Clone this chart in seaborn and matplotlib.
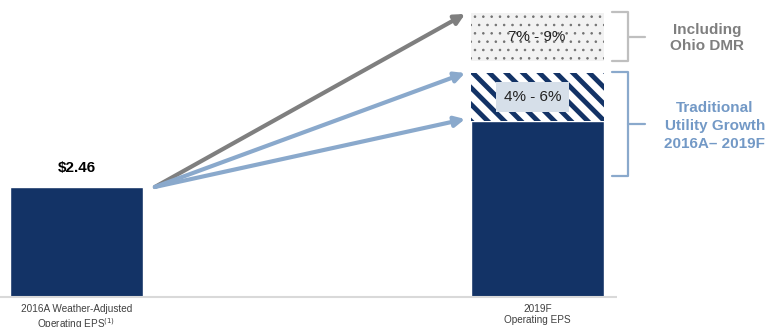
import matplotlib
matplotlib.use("Agg")
import matplotlib.pyplot as plt
import pandas as pd
import seaborn as sns

# data
categories = ["2016A Weather-Adjusted\nOperating EPS$^{(1)}$", "2019F\nOperating EPS"]
base_values = [2.46, 3.94]          # solid navy bars
traditional_top = 5.01              # top of the hatched band (4% - 6%)
dmr_range = [5.28, 6.35]            # dotted band (7% - 9%)
arrow_targets = [6.33, 5.01, 3.98]  # where the three arrows end
value_label = "$2.46"
traditional_label = "4% - 6%"
dmr_label = "7% - 9%"

NAVY = "#133366"
GRAY = "#7f7f7f"
BLUE = "#8aa9cc"
BLUE_TXT = "#7399c6"

sns.set_style("white")
plt.rcParams["font.family"] = ["Liberation Sans", "DejaVu Sans"]

fig = plt.figure(figsize=(7.73, 3.27), dpi=100)
ax = fig.add_axes([0, 0, 1, 1])

df = pd.DataFrame({"cat": categories, "eps": base_values})
sns.barplot(data=df, x="cat", y="eps", color=NAVY, saturation=1, width=0.29, ax=ax)

# stacked bands on the 2019F bar
plt.rcParams["hatch.linewidth"] = 3.5
ax.bar(1, traditional_top - base_values[1], bottom=base_values[1], width=0.29,
       color="white", edgecolor=NAVY, hatch="\\\\", linewidth=0)
plt.rcParams["hatch.linewidth"] = 0.6
ax.bar(1, dmr_range[1] - dmr_range[0], bottom=dmr_range[0], width=0.29,
       color="#f2f2f2", edgecolor="#707070", hatch="..", linewidth=0)

# arrows
for i, yt in enumerate(arrow_targets):
    c = GRAY if i == 0 else BLUE
    ax.annotate("", xy=(0.843, yt), xytext=(0.170, base_values[0]),
                arrowprops=dict(arrowstyle="-|>", color=c, lw=3, mutation_scale=15,
                                shrinkA=0, shrinkB=0))

# baseline
ax.plot([-0.166, 1.172], [0, 0], color="#d9d9d9", lw=1.5, solid_capstyle="butt")

# labels
ax.text(0, 2.88, value_label, ha="center", va="center", fontsize=11, fontweight="bold", color="black")
ax.text(0.990, 4.47, traditional_label, ha="center", va="center", fontsize=11, color="#222222",
        bbox=dict(boxstyle="square,pad=0.5", fc="#d6dfe9", ec="none"))
ax.text(0.999, 5.81, dmr_label, ha="center", va="center", fontsize=11, color="#222222")
for i, lab in enumerate(categories):
    ax.text(i, -0.15, lab, ha="center", va="top", fontsize=7.2, color="#404040", linespacing=1.2)

# brackets
def bracket(y0, y1, color):
    ax.plot([1.162, 1.196, 1.196, 1.162], [y1, y1, y0, y0], color=color, lw=1.6)
    ym = (y0 + y1) / 2
    ax.plot([1.196, 1.233], [ym, ym], color=color, lw=1.6)

bracket(dmr_range[0], dmr_range[1] + 0.02, "#bfbfbf")
bracket(2.71, traditional_top + 0.02, BLUE)

ax.text(1.368, 5.79, "Including\nOhio DMR", ha="center", va="center", fontsize=11,
        fontweight="bold", color=GRAY, linespacing=1.12)
ax.text(1.385, 3.82, "Traditional\nUtility Growth\n2016A\u2013 2019F", ha="center", va="center",
        fontsize=11, fontweight="bold", color=BLUE_TXT, linespacing=1.34)

ax.set_xlim(-0.166, 1.511)
ax.set_ylim(-0.671, 6.642)
ax.axis("off")

fig.savefig("out.png", dpi=100)
